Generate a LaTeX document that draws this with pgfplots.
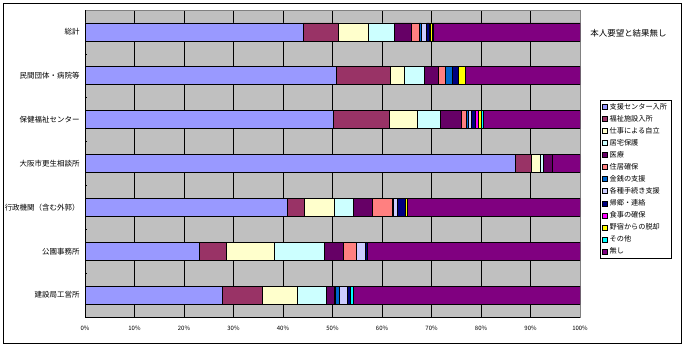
\documentclass[border=0pt]{standalone}
\usepackage{pgfplots}
\pgfplotsset{compat=1.18}
\usepackage{pgfplotstable}
\usepackage{fontspec}
\setmainfont{Noto Sans CJK JP}

\definecolor{c1}{HTML}{9999FF}
\definecolor{c2}{HTML}{993366}
\definecolor{c3}{HTML}{FFFFCC}
\definecolor{c4}{HTML}{CCFFFF}
\definecolor{c5}{HTML}{660066}
\definecolor{c6}{HTML}{FF8080}
\definecolor{c7}{HTML}{0066CC}
\definecolor{c8}{HTML}{CCCCFF}
\definecolor{c9}{HTML}{000080}
\definecolor{c10}{HTML}{FF00FF}
\definecolor{c11}{HTML}{FFFF00}
\definecolor{c12}{HTML}{00FFFF}
\definecolor{c13}{HTML}{800080}
\definecolor{cbg}{HTML}{C0C0C0}
\definecolor{cframe}{HTML}{808080}

\pgfplotstableread{
y s1 s2 s3 s4 s5 s6 s7 s8 s9 s10 s11 s12 s13
0 44.1 7.1 6.0 5.3 3.5 1.5 0.5 1.0 0.5 0.2 0.4 0.2 29.7
1 50.7 11.0 2.8 4.0 2.9 1.4 1.4 0 1.3 0 1.3 0 23.2
2 50.2 11.3 5.6 4.7 4.3 1.0 0.4 0.6 0.8 0.5 0.7 0.4 19.5
3 86.9 3.3 1.7 0.7 1.9 0 0 0 0 0 0 0 5.5
4 40.9 3.4 6.1 3.8 3.8 4.0 0.3 0.7 1.8 0 0.4 0 34.8
5 23.1 5.5 9.6 10.1 3.9 2.6 0 1.8 0.4 0 0 0 43.0
6 27.7 8.1 7.1 5.8 1.6 0.3 0.8 1.5 0.7 0 0 0.6 45.8
}\data

\begin{document}
\begin{tikzpicture}
\path (0,0) rectangle (684bp,348bp);
\draw[line width=0.8bp] (3bp,5bp) rectangle (681bp,345bp);
\node[font=\fontsize{8.5}{9}\selectfont, anchor=center] at (628.5bp,315bp) {本人要望と結果無し};
\begin{axis}[
  at={(85bp,31bp)}, anchor=south west,
  width=495bp, height=307bp, scale only axis,
  xbar stacked, bar width=0.41,
  xmin=0, xmax=100, ymin=-0.5, ymax=6.5, y dir=reverse,
  ytick={0,...,6},
  yticklabels={総計,民間団体・病院等,保健福祉センター,大阪市更生相談所,行政機関（含む外郭）,公園事務所,建設局工営所},
  yticklabel style={font=\fontsize{7.5}{8}\selectfont, xshift=-2bp},
  xtick={0,10,...,100},
  xticklabel={\pgfmathprintnumber{\tick}\%},
  /pgf/number format/assume math mode=true,
  xticklabel style={font=\fontsize{6}{7}\selectfont, yshift=-6bp},
  xmajorgrids,
  major grid style={black, line width=0.8bp},
  axis background/.style={fill=cbg},
  axis line style={draw=cframe, line width=0.8bp},
  major tick length=0pt,
  ytick pos=left,
  extra y ticks={0.5,1.5,2.5,3.5,4.5,5.5},
  extra y tick labels={},
  extra y tick style={major tick length=2.5bp, tick style={black, line width=0.6bp}, ymajorgrids=false},
  every axis plot/.append style={draw=black, line width=0.6bp},
  legend image code/.code={\draw[#1,draw=black,line width=0.4bp] (0bp,-2.5bp) rectangle (5bp,2.5bp);},
  legend style={at={(1.0404,0.7068)}, anchor=north west, draw=black, line width=0.6bp,
    font=\fontsize{7.2}{8}\selectfont, cells={anchor=west}, row sep=0.5bp,
    inner xsep=2bp, inner ysep=1bp},
]
\addplot[fill=c1] table[x=s1,y=y]{\data};
\addplot[fill=c2] table[x=s2,y=y]{\data};
\addplot[fill=c3] table[x=s3,y=y]{\data};
\addplot[fill=c4] table[x=s4,y=y]{\data};
\addplot[fill=c5] table[x=s5,y=y]{\data};
\addplot[fill=c6] table[x=s6,y=y]{\data};
\addplot[fill=c7] table[x=s7,y=y]{\data};
\addplot[fill=c8] table[x=s8,y=y]{\data};
\addplot[fill=c9] table[x=s9,y=y]{\data};
\addplot[fill=c10] table[x=s10,y=y]{\data};
\addplot[fill=c11] table[x=s11,y=y]{\data};
\addplot[fill=c12] table[x=s12,y=y]{\data};
\addplot[fill=c13] table[x=s13,y=y]{\data};
\legend{支援センター入所,福祉施設入所,仕事による自立,居宅保護,医療,住居確保,金銭の支援,各種手続き支援,帰郷・連絡,食事の確保,野宿からの脱却,その他,無し}
\draw[black, line width=0.8bp] (axis cs:0,-0.5) -- (axis cs:0,6.5) -- (axis cs:100,6.5);
\end{axis}
\end{tikzpicture}
\end{document}
